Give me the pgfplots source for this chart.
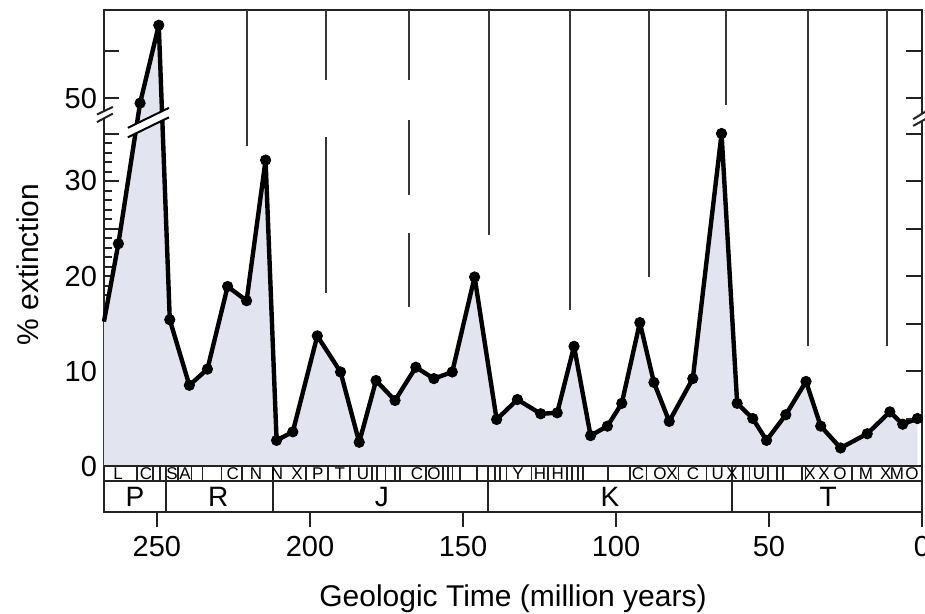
\documentclass[border=0pt]{standalone}
\usepackage{fontspec}
\setmainfont{Liberation Sans}
\usepackage{pgfplots}
\usepackage{pgfplotstable}
\pgfplotsset{compat=1.18}
\definecolor{fillc}{RGB}{226,229,240}
\definecolor{framec}{RGB}{35,35,35}
\definecolor{vlinec}{RGB}{55,55,55}

% age (Ma), percent extinction
\pgfplotstableread{
t v
267.3 15.2
262.6 23.4
255.5 49.5
249.4 57.7
245.8 15.4
239.4 8.5
233.5 10.2
226.9 18.9
220.7 17.4
214.5 32.2
210.9 2.7
205.6 3.6
197.6 13.7
190.0 9.9
183.9 2.5
178.4 9.0
172.2 6.9
165.4 10.4
159.5 9.2
153.5 9.9
146.2 19.9
139.0 4.9
132.2 7.0
124.6 5.5
119.2 5.6
113.7 12.6
108.3 3.2
102.8 4.2
98.1 6.6
92.2 15.1
87.6 8.8
82.6 4.7
74.9 9.2
65.5 35.0
60.4 6.6
55.3 5.0
50.8 2.7
44.5 5.4
37.9 8.9
33.1 4.2
26.6 1.9
17.9 3.4
10.5 5.7
6.3 4.4
1.5 5.0
}\ext

% stage initials
\pgfplotstableread{
t y l
262.7 -0.79 L
253.6 -0.79 C
245.1 -0.79 S
240.8 -0.79 A
225.2 -0.79 C
217.6 -0.79 N
210.8 -0.79 N
204.2 -0.79 X
197.4 -0.79 P
190.2 -0.79 T
182.7 -0.79 U
165.0 -0.79 C
159.5 -0.79 O
132.0 -0.79 Y
124.8 -0.79 H
119.0 -0.79 H
92.8 -0.79 C
85.6 -0.79 O
81.7 -0.79 X
74.8 -0.79 C
66.7 -0.79 U
62.1 -0.79 X
53.3 -0.79 U
36.6 -0.79 X
32.0 -0.79 X
26.8 -0.79 O
18.3 -0.79 M
11.8 -0.79 X
8.2 -0.79 M
3.3 -0.79 O
}\stages

% periods
\pgfplotstableread{
t y l
257.2 -3.21 P
230.0 -3.21 R
176.5 -3.21 J
102.0 -3.21 K
30.7 -3.21 T
}\periods

\begin{document}
\begin{tikzpicture}
\begin{axis}[
  scale only axis, width=409pt, height=251pt,
  xmin=0, xmax=267.3, x dir=reverse,
  ymin=-4.84, ymax=48,
  clip=false,
  axis line style={framec, line width=1pt},
  xtick={0,50,100,150,200,250},
  xtick style={draw=none},
  /pgf/number format/assume math mode=true,
  xticklabel style={anchor=base, yshift=-22.3pt, font=\fontsize{14.5}{17}\selectfont},
  ytick={0,5,10,15,20,25,30,35,38.7,43.7},
  yticklabels={0,,10,,20,,30,,50,},
  minor ytick={0,1,...,35},
  ytick pos=left,
  tick align=inside,
  major tick length=7.5pt, minor tick length=4pt,
  tick style={framec, line width=1pt},
  yticklabel style={font=\fontsize{14.5}{17}\selectfont},
  labelmark/.style={only marks, mark=*, mark size=0pt,
    scatter/use mapped color={draw=none, fill=none},
    nodes near coords, point meta=explicit symbolic},
]
% filled curve
\addplot[draw=none, fill=fillc, y filter/.expression={y>40 ? y-11.3 : y}] table[x=t, y=v] {\ext} \closedcycle;

% periodicity lines
\draw[vlinec, line width=1pt] (axis cs:220.7,48) -- (axis cs:220.7,33.7);
\draw[vlinec, line width=1pt] (axis cs:194.9,48) -- (axis cs:194.9,40.6);
\draw[vlinec, line width=1pt] (axis cs:194.9,34.6) -- (axis cs:194.9,18.2);
\draw[vlinec, line width=1pt] (axis cs:167.5,48) -- (axis cs:167.5,40.6);
\draw[vlinec, line width=1pt] (axis cs:167.5,36.4) -- (axis cs:167.5,28.5);
\draw[vlinec, line width=1pt] (axis cs:167.5,24.5) -- (axis cs:167.5,16.7);
\draw[vlinec, line width=1pt] (axis cs:141.4,48) -- (axis cs:141.4,24.3);
\draw[vlinec, line width=1pt] (axis cs:115.0,48) -- (axis cs:115.0,16.4);
\draw[vlinec, line width=1pt] (axis cs:89.1,48) -- (axis cs:89.1,19.9);
\draw[vlinec, line width=1pt] (axis cs:64.2,48) -- (axis cs:64.2,38.0);
\draw[vlinec, line width=1pt] (axis cs:37.2,48) -- (axis cs:37.2,12.6);
\draw[vlinec, line width=1pt] (axis cs:11.3,48) -- (axis cs:11.3,12.6);

\addplot[black, line width=2.2pt, line join=round, y filter/.expression={y>40 ? y-11.3 : y}] table[x=t, y=v] {\ext};
\addplot[only marks, mark=*, mark size=2.6pt, black, restrict x to domain=0:266, y filter/.expression={y>40 ? y-11.3 : y}] table[x=t, y=v] {\ext};

% axis break on the curve and on both y axes
\fill[white] (axis cs:259.5,34.6) -- (axis cs:246.1,36.7) -- (axis cs:246.1,37.7) -- (axis cs:259.5,35.6) -- cycle;
\draw[black, line width=1pt] (axis cs:259.5,34.6) -- (axis cs:246.1,36.7);
\draw[black, line width=1pt] (axis cs:259.5,35.6) -- (axis cs:246.1,37.7);
\fill[white] (axis cs:269.6,36.2) -- (axis cs:264.4,37.1) -- (axis cs:264.4,37.8) -- (axis cs:269.6,37.0) -- cycle;
\draw[framec, line width=1pt] (axis cs:269.6,36.2) -- (axis cs:264.4,37.1);
\draw[framec, line width=1pt] (axis cs:269.6,37.0) -- (axis cs:264.4,37.8);
\fill[white] (axis cs:2.9,35.8) -- (axis cs:-1.6,36.6) -- (axis cs:-1.6,37.4) -- (axis cs:2.9,36.5) -- cycle;
\draw[framec, line width=1pt] (axis cs:2.9,35.8) -- (axis cs:-1.6,36.6);
\draw[framec, line width=1pt] (axis cs:2.9,36.5) -- (axis cs:-1.6,37.4);

% right y ticks (major only)
\pgfplotsinvokeforeach{0,5,10,15,20,25,30,35,38.7,43.7}{
  \draw[framec, line width=1pt] (axis cs:0,#1) -- (axis cs:5.2,#1);
}
% x ticks below the time-scale strip
\pgfplotsinvokeforeach{0,50,100,150,200,250}{
  \draw[framec, line width=1pt] (axis cs:#1,-4.84) -- (axis cs:#1,-6.42);
}

% time-scale strip
\draw[framec, line width=0.8pt] (axis cs:267.3,0) -- (axis cs:0,0);
\draw[framec, line width=0.8pt] (axis cs:267.3,-1.58) -- (axis cs:0,-1.58);
\pgfplotsinvokeforeach{256.5,251.3,249.0,243.1,238.6,235.0,228.8,222.2,201.3,194.1,186.9,179.7,178.1,175.2,172.2,170.6,162.1,156.5,154.9,153.3,151.0,145.4,139.5,137.9,135.9,127.5,122.2,116.0,114.4,112.4,110.8,102.6,95.4,89.9,79.7,70.3,58.5,56.5,50.3,47.4,45.4,39.2,38.2,22.9}{
  \draw[framec, line width=0.6pt] (axis cs:#1,0) -- (axis cs:#1,-1.58);
}
\pgfplotsinvokeforeach{247.1,212.2,141.7,62.2}{
  \draw[framec, line width=0.9pt] (axis cs:#1,0) -- (axis cs:#1,-4.84);
}
\addplot[labelmark,
  nodes near coords style={anchor=center, inner sep=0pt, text=black, font=\fontsize{8.5}{9}\selectfont}]
  table[x=t, y=y, meta=l] {\stages};
\addplot[labelmark,
  nodes near coords style={anchor=center, inner sep=0pt, text=black, font=\fontsize{14}{16}\selectfont}]
  table[x=t, y=y, meta=l] {\periods};

% labels
\node[rotate=90, font=\fontsize{15}{18}\selectfont] at ([xshift=-38pt]axis cs:267.3,21.2) {\% extinction};
\node[anchor=base, font=\fontsize{15}{18}\selectfont] at ([yshift=-47pt]axis cs:133.65,-4.84) {Geologic Time (million years)};

\coordinate (bl) at (axis cs:267.3,-4.84);
\coordinate (tr) at (axis cs:0,48);
\end{axis}
\pgfresetboundingbox
\path[use as bounding box] ([xshift=-52pt,yshift=-50.5pt]bl) rectangle ([xshift=1.5pt,yshift=5pt]tr);
\end{tikzpicture}
\end{document}
